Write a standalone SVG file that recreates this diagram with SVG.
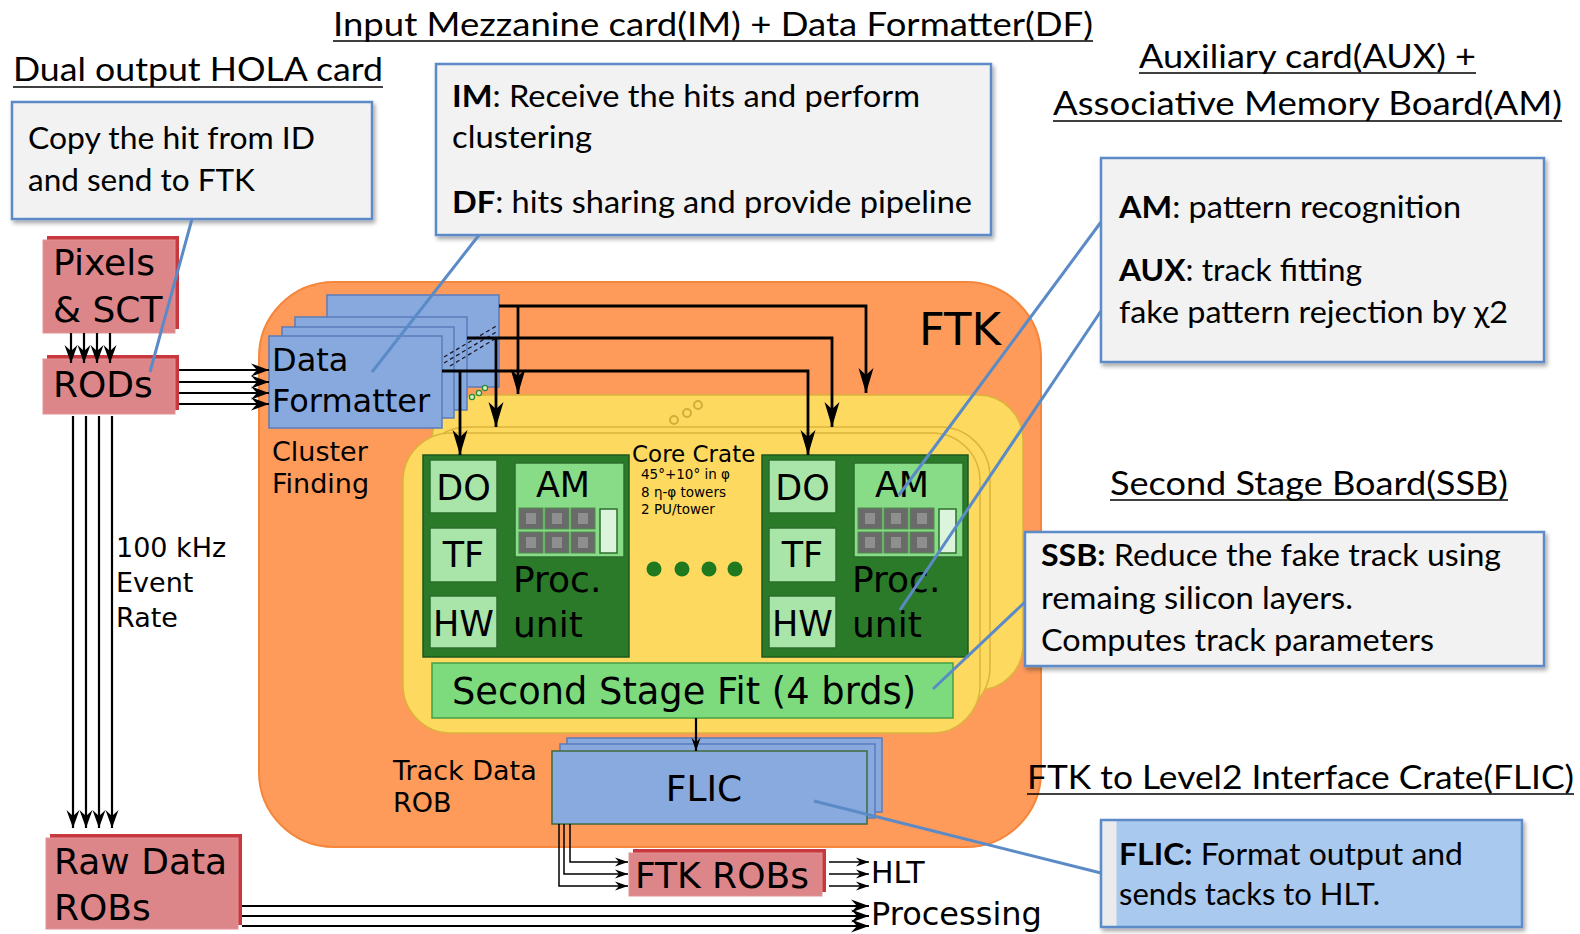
<svg xmlns="http://www.w3.org/2000/svg" width="1580" height="934" viewBox="0 0 1580 934">
<defs>
<style>
.t{font-family:"Lato","Liberation Sans",sans-serif;fill:#000}
.ttl{font-size:33px}
.cl{font-size:30px}
.n{font-family:"DejaVu Sans",Verdana,sans-serif;fill:#000}
.cb{fill:#f2f2f2;stroke:#5d8bc8;stroke-width:2.5;filter:url(#sh)}
.ul{stroke:#000;stroke-width:1.6}
.red{fill:#dc868a;stroke:#e39296;stroke-width:1}
.reds{fill:#c8393f}
.blue{fill:#88a9de;stroke:#5a7cbc;stroke-width:1.5}
.lg{fill:#a9e4a9;stroke:#2b6e2b;stroke-width:1.5}
.pu{fill:#2a7a2a;stroke:#1d5a1d;stroke-width:1.5}
.amb{fill:#88dc88;stroke:#2b6e2b;stroke-width:1.5}
.yl{fill:#fdd95f;stroke:#dcb43c;stroke-width:1.5}
.ar{stroke:#000;stroke-width:2.2;fill:none}
.arb{stroke:#000;stroke-width:2.8;fill:none}
.art{stroke:#000;stroke-width:1.5;fill:none}
.co{stroke:#5b8bc7;stroke-width:3;fill:none}
.chip{fill:#6a6a6a;stroke:#4c8c4c;stroke-width:1}
</style>
<filter id="sh" x="-5%" y="-5%" width="115%" height="125%">
<feDropShadow dx="2" dy="3" stdDeviation="2" flood-color="#000" flood-opacity="0.35"/>
</filter>
<marker id="a" viewBox="-18 -7 19 14" refX="0" refY="0" markerWidth="19" markerHeight="14" orient="auto" markerUnits="userSpaceOnUse">
<path d="M0,0 L-18,-6.5 L-12,0 L-18,6.5 Z" fill="#000"/>
</marker>
<marker id="ab" viewBox="-25 -8 26 16" refX="0" refY="0" markerWidth="26" markerHeight="16" orient="auto" markerUnits="userSpaceOnUse">
<path d="M0,0 L-25,-7.5 L-18,0 L-25,7.5 Z" fill="#000"/>
</marker>
<marker id="as" viewBox="-13 -5 14 10" refX="0" refY="0" markerWidth="14" markerHeight="10" orient="auto" markerUnits="userSpaceOnUse">
<path d="M0,0 L-13,-4.5 L-9,0 L-13,4.5 Z" fill="#000"/>
</marker>
<!-- 3x2 block of AM chips plus the tall FPGA -->
<g id="chips">
<rect class="chip" x="0" y="0" width="24" height="21"/>
<rect class="chip" x="26" y="0" width="24" height="21"/>
<rect class="chip" x="52" y="0" width="24" height="21"/>
<rect class="chip" x="0" y="24" width="24" height="21"/>
<rect class="chip" x="26" y="24" width="24" height="21"/>
<rect class="chip" x="52" y="24" width="24" height="21"/>
<path d="M7,5 h10 v11 h-10z M33,5 h10 v11 h-10z M59,5 h10 v11 h-10z M7,29 h10 v11 h-10z M33,29 h10 v11 h-10z M59,29 h10 v11 h-10z" fill="#8f8f8f"/>
<rect x="81" y="1" width="17" height="44" fill="#dcf3dc" stroke="#2b6e2b" stroke-width="1.5"/>
</g>
</defs>

<rect width="1580" height="934" fill="#fff"/>

<!-- FTK system region -->
<g id="ftk">
<rect x="259" y="282" width="782" height="565" rx="75" fill="#fe9a5a" stroke="#f5863a" stroke-width="2"/>
<text class="n" x="919" y="345" font-size="45">FTK</text>
</g>

<!-- headings -->
<g id="headings">
<text class="t ttl" x="333" y="36" textLength="760" lengthAdjust="spacingAndGlyphs">Input Mezzanine card(IM) + Data Formatter(DF)</text>
<line class="ul" x1="333" y1="41" x2="1093" y2="41"/>
<text class="t ttl" x="13" y="81" textLength="370" lengthAdjust="spacingAndGlyphs">Dual output HOLA card</text>
<line class="ul" x1="13" y1="87" x2="383" y2="87"/>
<text class="t ttl" x="1139" y="68" textLength="337" lengthAdjust="spacingAndGlyphs">Auxiliary card(AUX) +</text>
<line class="ul" x1="1139" y1="73" x2="1476" y2="73"/>
<text class="t ttl" x="1053" y="115" textLength="509" lengthAdjust="spacingAndGlyphs">Associative Memory Board(AM)</text>
<line class="ul" x1="1053" y1="121" x2="1562" y2="121"/>
<text class="t ttl" x="1110" y="495" textLength="398" lengthAdjust="spacingAndGlyphs">Second Stage Board(SSB)</text>
<line class="ul" x1="1110" y1="500" x2="1508" y2="500"/>
<text class="t ttl" x="1027" y="789" textLength="547" lengthAdjust="spacingAndGlyphs">FTK to Level2 Interface Crate(FLIC)</text>
<line class="ul" x1="1027" y1="794" x2="1574" y2="794"/>
</g>

<!-- core crate (stacked) -->
<g id="core-crate">
<rect class="yl" x="432" y="395" width="591" height="295" rx="45"/>
<rect class="yl" x="418" y="427" width="572" height="290" rx="50"/>
<rect class="yl" x="403" y="433" width="577" height="300" rx="48"/>
<circle cx="674" cy="420" r="4" fill="none" stroke="#d3ad3a" stroke-width="2"/>
<circle cx="687" cy="413" r="4" fill="none" stroke="#d3ad3a" stroke-width="2"/>
<circle cx="698" cy="405" r="4" fill="none" stroke="#d3ad3a" stroke-width="2"/>
<text class="n" x="632" y="462" font-size="23">Core Crate</text>
<text class="n" x="641" y="479" font-size="13.5" fill="#332">45°+10° in φ</text>
<text class="n" x="641" y="497" font-size="13.5" fill="#332">8 η-φ towers</text>
<text class="n" x="641" y="514" font-size="13.5" fill="#332">2 PU/tower</text>
<circle cx="654" cy="569" r="7.5" fill="#1f7a1f"/>
<circle cx="682" cy="569" r="7.5" fill="#1f7a1f"/>
<circle cx="709" cy="569" r="7.5" fill="#1f7a1f"/>
<circle cx="735" cy="569" r="7.5" fill="#1f7a1f"/>
</g>

<!-- Data Formatter boards -->
<g id="data-formatter">
<rect class="blue" x="327" y="295" width="172" height="92"/>
<rect class="blue" x="295" y="317" width="172" height="93"/>
<rect class="blue" x="282" y="327" width="172" height="91"/>
<rect class="blue" x="269" y="336" width="173" height="92"/>
<text class="n" x="272" y="371" font-size="32">Data</text>
<text class="n" x="272" y="412" font-size="32">Formatter</text>
<g stroke="#1a1a2a" stroke-width="1.3" stroke-dasharray="4 3">
<line x1="444" y1="357" x2="498" y2="325"/>
<line x1="444" y1="363" x2="498" y2="331"/>
<line x1="450" y1="366" x2="498" y2="337"/>
</g>
<circle cx="472" cy="397" r="2.6" fill="#cfeccf" stroke="#2a8a2a" stroke-width="1.2"/>
<circle cx="479" cy="393" r="2.6" fill="#cfeccf" stroke="#2a8a2a" stroke-width="1.2"/>
<circle cx="485" cy="388" r="2.6" fill="#cfeccf" stroke="#2a8a2a" stroke-width="1.2"/>
<text class="n" x="272" y="461" font-size="27">Cluster</text>
<text class="n" x="272" y="493" font-size="27">Finding</text>
</g>

<!-- processing unit, left -->
<g id="pu-left">
<rect class="pu" x="423" y="455" width="206" height="202"/>
<rect class="lg" x="430" y="460" width="67" height="53"/>
<rect class="lg" x="430" y="528" width="67" height="54"/>
<rect class="lg" x="430" y="596" width="67" height="52"/>
<text class="n" x="463.5" y="500" font-size="35" text-anchor="middle">DO</text>
<text class="n" x="463.5" y="567" font-size="35" text-anchor="middle">TF</text>
<text class="n" x="463.5" y="636" font-size="35" text-anchor="middle">HW</text>
<rect class="amb" x="515" y="463" width="109" height="94"/>
<text class="n" x="563" y="497" font-size="35" text-anchor="middle">AM</text>
<use href="#chips" x="519" y="508"/>
<text class="n" x="513" y="592" font-size="36">Proc.</text>
<text class="n" x="513" y="637" font-size="36">unit</text>
</g>

<!-- processing unit, right -->
<g id="pu-right">
<rect class="pu" x="762" y="455" width="206" height="202"/>
<rect class="lg" x="769" y="460" width="67" height="53"/>
<rect class="lg" x="769" y="528" width="67" height="54"/>
<rect class="lg" x="769" y="596" width="67" height="52"/>
<text class="n" x="802.5" y="500" font-size="35" text-anchor="middle">DO</text>
<text class="n" x="802.5" y="567" font-size="35" text-anchor="middle">TF</text>
<text class="n" x="802.5" y="636" font-size="35" text-anchor="middle">HW</text>
<rect class="amb" x="854" y="463" width="109" height="94"/>
<text class="n" x="902" y="497" font-size="35" text-anchor="middle">AM</text>
<use href="#chips" x="858" y="508"/>
<text class="n" x="852" y="592" font-size="36">Proc.</text>
<text class="n" x="852" y="637" font-size="36">unit</text>
</g>

<!-- second stage fit -->
<g id="ssf">
<rect x="432" y="663" width="521" height="55" fill="#7ddb7d" stroke="#46a046" stroke-width="1.5"/>
<text class="n" x="452" y="704" font-size="37" textLength="464" lengthAdjust="spacingAndGlyphs">Second Stage Fit (4 brds)</text>
</g>

<!-- FLIC boards -->
<g id="flic">
<rect class="blue" x="567" y="738" width="315" height="74"/>
<rect class="blue" x="560" y="744" width="315" height="74"/>
<rect x="552" y="751" width="315" height="73" fill="#88aade" stroke="#3f6a3f" stroke-width="1.5"/>
<text class="n" x="704" y="801" font-size="36" text-anchor="middle">FLIC</text>
<text class="n" x="393" y="780" font-size="27">Track Data</text>
<text class="n" x="393" y="812" font-size="27">ROB</text>
</g>

<!-- detector side -->
<g id="pixels-sct">
<rect class="reds" x="47" y="236" width="132" height="93"/>
<rect class="red" x="43" y="240" width="132" height="93"/>
<text class="n" x="53" y="275" font-size="36">Pixels</text>
<text class="n" x="53" y="322" font-size="36">&amp; SCT</text>
</g>
<g id="rods">
<rect class="reds" x="47" y="355" width="132" height="55"/>
<rect class="red" x="43" y="359" width="132" height="55"/>
<text class="n" x="53" y="397" font-size="36">RODs</text>
</g>
<g id="raw-data-robs">
<rect class="reds" x="50" y="834" width="192" height="91"/>
<rect class="red" x="46" y="838" width="192" height="91"/>
<text class="n" x="54" y="874" font-size="36">Raw Data</text>
<text class="n" x="54" y="920" font-size="36">ROBs</text>
</g>
<g id="ftk-robs">
<rect class="reds" x="633" y="849" width="193" height="43"/>
<rect class="red" x="629" y="853" width="193" height="43"/>
<text class="n" x="635" y="888" font-size="36">FTK ROBs</text>
</g>
<g id="outputs">
<text class="n" x="871" y="883" font-size="30">HLT</text>
<text class="n" x="871" y="925" font-size="32">Processing</text>
<text class="n" x="116" y="557" font-size="27">100 kHz</text>
<text class="n" x="116" y="592" font-size="27">Event</text>
<text class="n" x="116" y="627" font-size="27">Rate</text>
</g>

<!-- data flow -->
<g id="connectors">
<line class="ar" x1="71" y1="333" x2="71" y2="363" marker-end="url(#a)"/>
<line class="ar" x1="84" y1="333" x2="84" y2="363" marker-end="url(#a)"/>
<line class="ar" x1="97" y1="333" x2="97" y2="363" marker-end="url(#a)"/>
<line class="ar" x1="110" y1="333" x2="110" y2="363" marker-end="url(#a)"/>
<line class="ar" x1="179" y1="370" x2="269" y2="370" marker-end="url(#a)"/>
<line class="ar" x1="179" y1="382" x2="269" y2="382" marker-end="url(#a)"/>
<line class="ar" x1="179" y1="393" x2="269" y2="393" marker-end="url(#a)"/>
<line class="ar" x1="179" y1="404" x2="269" y2="404" marker-end="url(#a)"/>
<line class="ar" x1="73" y1="416" x2="73" y2="828" marker-end="url(#a)"/>
<line class="ar" x1="86" y1="416" x2="86" y2="828" marker-end="url(#a)"/>
<line class="ar" x1="99" y1="416" x2="99" y2="828" marker-end="url(#a)"/>
<line class="ar" x1="112" y1="416" x2="112" y2="828" marker-end="url(#a)"/>
<line class="ar" x1="242" y1="906" x2="869" y2="906" marker-end="url(#a)"/>
<line class="ar" x1="242" y1="916" x2="869" y2="916" marker-end="url(#a)"/>
<line class="ar" x1="242" y1="926" x2="869" y2="926" marker-end="url(#a)"/>
<!-- DF fan-out to the crates -->
<polyline class="arb" points="499,306 866,306 866,393" marker-end="url(#ab)"/>
<line class="arb" x1="518" y1="306" x2="518" y2="394" marker-end="url(#ab)"/>
<polyline class="arb" points="467,338 832,338 832,427" marker-end="url(#ab)"/>
<line class="arb" x1="496" y1="338" x2="496" y2="427" marker-end="url(#ab)"/>
<polyline class="arb" points="442,371 808,371 808,455" marker-end="url(#ab)"/>
<line class="arb" x1="460" y1="371" x2="460" y2="455" marker-end="url(#ab)"/>
<line class="ar" x1="696" y1="718" x2="696" y2="751" marker-end="url(#as)"/>
<polyline class="art" points="570,824 570,862 628,862" marker-end="url(#as)"/>
<polyline class="art" points="564,824 564,874 628,874" marker-end="url(#as)"/>
<polyline class="art" points="559,824 559,886 628,886" marker-end="url(#as)"/>
<line class="art" x1="829" y1="862" x2="869" y2="862" marker-end="url(#as)"/>
<line class="art" x1="829" y1="874" x2="869" y2="874" marker-end="url(#as)"/>
<line class="art" x1="829" y1="886" x2="869" y2="886" marker-end="url(#as)"/>
</g>

<!-- description callouts -->
<g id="note-hola">
<rect class="cb" x="12" y="102" width="360" height="117"/>
<text class="t cl" x="28" y="149" textLength="287" lengthAdjust="spacingAndGlyphs">Copy the hit from ID</text>
<text class="t cl" x="28" y="191" textLength="227" lengthAdjust="spacingAndGlyphs">and send to FTK</text>
</g>
<g id="note-imdf">
<rect class="cb" x="436" y="64" width="555" height="171"/>
<text class="t cl" x="452" y="107" textLength="468" lengthAdjust="spacingAndGlyphs"><tspan font-weight="bold">IM</tspan>: Receive the hits and perform</text>
<text class="t cl" x="452" y="148" textLength="140" lengthAdjust="spacingAndGlyphs">clustering</text>
<text class="t cl" x="452" y="213" textLength="520" lengthAdjust="spacingAndGlyphs"><tspan font-weight="bold">DF</tspan>: hits sharing and provide pipeline</text>
</g>
<g id="note-amaux">
<rect class="cb" x="1101" y="158" width="443" height="204"/>
<text class="t cl" x="1119" y="218" textLength="342" lengthAdjust="spacingAndGlyphs"><tspan font-weight="bold">AM</tspan>: pattern recognition</text>
<text class="t cl" x="1119" y="281" textLength="243" lengthAdjust="spacingAndGlyphs"><tspan font-weight="bold">AUX</tspan>: track fitting</text>
<text class="t cl" x="1119" y="323" textLength="389" lengthAdjust="spacingAndGlyphs">fake pattern rejection by χ2</text>
</g>
<g id="note-ssb">
<rect class="cb" x="1025" y="532" width="519" height="134"/>
<text class="t cl" x="1041" y="566" textLength="460" lengthAdjust="spacingAndGlyphs"><tspan font-weight="bold">SSB:</tspan> Reduce the fake track using</text>
<text class="t cl" x="1041" y="609" textLength="312" lengthAdjust="spacingAndGlyphs">remaing silicon layers.</text>
<text class="t cl" x="1041" y="651" textLength="393" lengthAdjust="spacingAndGlyphs">Computes track parameters</text>
</g>
<g id="note-flic">
<rect x="1101" y="820" width="421" height="107" fill="#a9c9ee" stroke="#5d8bc8" stroke-width="2.5" filter="url(#sh)"/>
<rect x="1102.5" y="821.5" width="14" height="104" fill="#ebebeb"/>
<text class="t cl" x="1119" y="865" textLength="344" lengthAdjust="spacingAndGlyphs"><tspan font-weight="bold">FLIC:</tspan> Format output and</text>
<text class="t cl" x="1119" y="905" textLength="261" lengthAdjust="spacingAndGlyphs">sends tacks to HLT.</text>
</g>
<g id="callout-lines">
<line class="co" x1="192" y1="219" x2="150" y2="372"/>
<line class="co" x1="479" y1="235" x2="372" y2="372"/>
<line class="co" x1="1101" y1="222" x2="899" y2="495"/>
<line class="co" x1="1101" y1="311" x2="900" y2="610"/>
<line class="co" x1="1025" y1="602" x2="933" y2="689"/>
<line class="co" x1="1101" y1="873" x2="814" y2="801"/>
</g>
</svg>
